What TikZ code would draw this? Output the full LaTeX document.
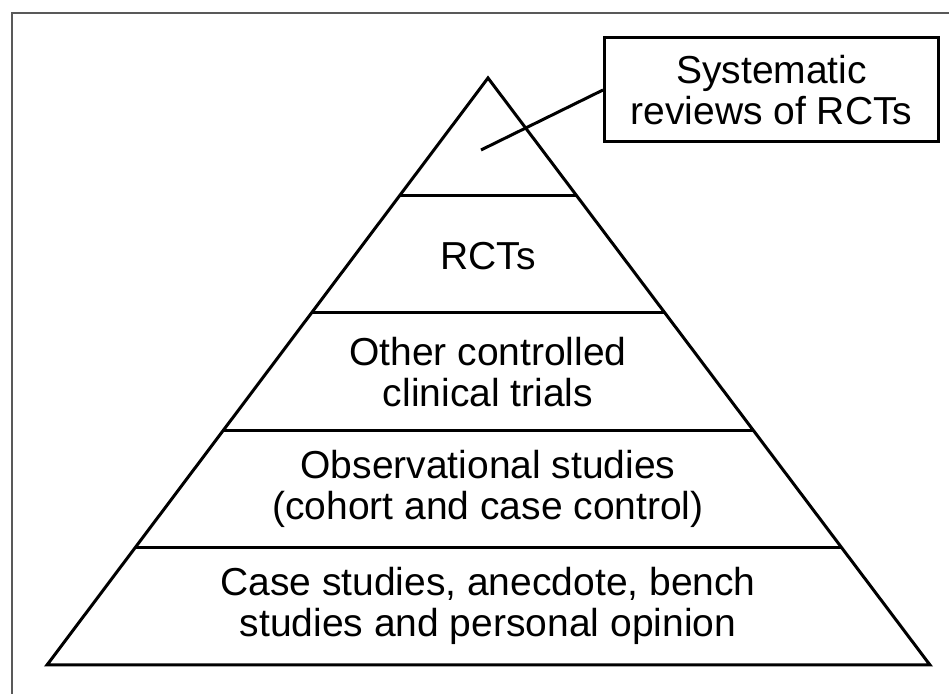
\documentclass[tikz,border=0pt]{standalone}
\usepackage{fontspec}
\setmainfont{Liberation Sans}
\usetikzlibrary{calc}
\tikzset{
  nivel/.style={align=center, font=\fontsize{19.5pt}{20.5pt}\selectfont},
  caja/.style={draw, line width=1.5pt, align=center, minimum width=167pt, minimum height=52pt, inner sep=0pt, font=\fontsize{19.5pt}{20.5pt}\selectfont}
}
\begin{document}
\begin{tikzpicture}[x=0.5pt,y=-0.5pt]
        \useasboundingbox (0,0) rectangle (949,694);
        % marco gris
        \draw[line width=1.1pt, black!65] (12,700) -- (12,13) -- (955,13);
        % piramide
        \coordinate (apex) at (488,78);
        \coordinate (bl) at (47,665);
        \coordinate (br) at (930,665);
        \draw[line width=1.5pt, line join=miter] (apex) -- (bl) -- (br) -- cycle;
        \foreach \t in {0.2,0.4,0.6,0.8}
        \draw[line width=1.5pt] ($(apex)!\t!(bl)$) -- ($(apex)!\t!(br)$);
        % niveles
        \node[nivel] (rct) at (488,256) {RCTs};
        \node[nivel] (otros) at (488,372) {Other controlled\\clinical trials};
        \node[nivel] (obs) at (488,489) {Observational studies\\(cohort and case control)};
        \node[nivel] (casos) at (488,606) {Case studies, anecdote, bench\\studies and personal opinion};
        % revisiones sistematicas
        \node[caja] (sist) at (771.5,90) {Systematic\\reviews of RCTs};
        \coordinate (punta) at (481,150);
        \draw[line width=1.5pt] (punta) -- (sist.west);
\end{tikzpicture}
\end{document}
